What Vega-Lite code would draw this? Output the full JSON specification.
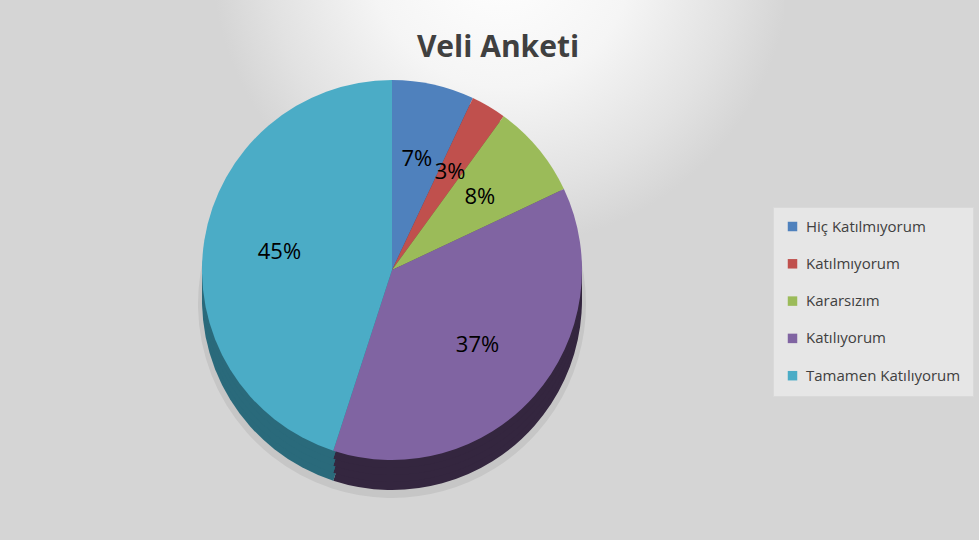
{
  "$schema": "https://vega.github.io/schema/vega-lite/v6.json",
  "width": 784,
  "height": 540,
  "autosize": {"type": "none"},
  "padding": {"left": 0, "top": 0, "right": 195, "bottom": 0},
  "background": "#d5d5d5",
  "title": {
    "text": "Veli Anketi",
    "font": "Open Sans",
    "fontSize": 30,
    "fontWeight": "bold",
    "color": "#404040",
    "anchor": "middle",
    "frame": "group",
    "dx": 106,
    "offset": -63
  },
  "data": {
    "values": [
      {"cevap": "Hiç Katılmıyorum", "oran": 0.07, "sira": 1},
      {"cevap": "Katılmıyorum", "oran": 0.03, "sira": 2},
      {"cevap": "Kararsızım", "oran": 0.08, "sira": 3},
      {"cevap": "Katılıyorum", "oran": 0.37, "sira": 4},
      {"cevap": "Tamamen Katılıyorum", "oran": 0.45, "sira": 5}
    ]
  },
  "layer": [
    {
      "mark": {
        "type": "rect",
        "strokeWidth": 0,
        "fill": {
          "gradient": "radial",
          "x1": 0.64, "y1": 0.1, "r1": 0,
          "x2": 0.64, "y2": 0.1, "r2": 0.37,
          "stops": [
            {"offset": 0, "color": "#ffffff"},
            {"offset": 0.45, "color": "#f5f5f5"},
            {"offset": 0.8, "color": "#e2e2e2"},
            {"offset": 1, "color": "#d5d5d5"}
          ]
        }
      },
      "encoding": {}
    },
    {
      "mark": {"type": "arc", "outerRadius": 194, "yOffset": 34, "strokeWidth": 0, "color": "#000000", "opacity": 0.07},
      "encoding": {
        "theta": {"field": "oran", "type": "quantitative", "stack": true},
        "order": {"field": "sira", "type": "quantitative"}
      }
    },
    {
      "mark": {"type": "arc", "outerRadius": 190, "yOffset": 30, "strokeWidth": 0},
      "encoding": {
        "theta": {"field": "oran", "type": "quantitative", "stack": true},
        "order": {"field": "sira", "type": "quantitative"},
        "color": {"field": "cevap", "type": "nominal", "legend": null,
          "scale": {"domain": ["Hiç Katılmıyorum", "Katılmıyorum", "Kararsızım", "Katılıyorum", "Tamamen Katılıyorum"],
                    "range": ["#2c4d75", "#772c2a", "#5f7530", "#34263f", "#2a6a7b"]}}
      }
    },
    {
      "mark": {"type": "arc", "outerRadius": 190, "yOffset": 22, "strokeWidth": 0},
      "encoding": {
        "theta": {"field": "oran", "type": "quantitative", "stack": true},
        "order": {"field": "sira", "type": "quantitative"},
        "color": {"field": "cevap", "type": "nominal", "legend": null,
          "scale": {"domain": ["Hiç Katılmıyorum", "Katılmıyorum", "Kararsızım", "Katılıyorum", "Tamamen Katılıyorum"],
                    "range": ["#2c4d75", "#772c2a", "#5f7530", "#34263f", "#2a6a7b"]}}
      }
    },
    {
      "mark": {"type": "arc", "outerRadius": 190, "yOffset": 15, "strokeWidth": 0},
      "encoding": {
        "theta": {"field": "oran", "type": "quantitative", "stack": true},
        "order": {"field": "sira", "type": "quantitative"},
        "color": {"field": "cevap", "type": "nominal", "legend": null,
          "scale": {"domain": ["Hiç Katılmıyorum", "Katılmıyorum", "Kararsızım", "Katılıyorum", "Tamamen Katılıyorum"],
                    "range": ["#2c4d75", "#772c2a", "#5f7530", "#34263f", "#2a6a7b"]}}
      }
    },
    {
      "mark": {"type": "arc", "outerRadius": 190, "yOffset": 8, "strokeWidth": 0},
      "encoding": {
        "theta": {"field": "oran", "type": "quantitative", "stack": true},
        "order": {"field": "sira", "type": "quantitative"},
        "color": {"field": "cevap", "type": "nominal", "legend": null,
          "scale": {"domain": ["Hiç Katılmıyorum", "Katılmıyorum", "Kararsızım", "Katılıyorum", "Tamamen Katılıyorum"],
                    "range": ["#2c4d75", "#772c2a", "#5f7530", "#34263f", "#2a6a7b"]}}
      }
    },
    {
      "mark": {"type": "arc", "outerRadius": 190, "strokeWidth": 0},
      "encoding": {
        "theta": {"field": "oran", "type": "quantitative", "stack": true},
        "order": {"field": "sira", "type": "quantitative"},
        "color": {"field": "cevap", "type": "nominal",
          "scale": {"domain": ["Hiç Katılmıyorum", "Katılmıyorum", "Kararsızım", "Katılıyorum", "Tamamen Katılıyorum"],
                    "range": ["#4f81bd", "#c0504d", "#9bbb59", "#8064a2", "#4bacc6"]},
          "legend": {
            "orient": "none",
            "legendX": 773,
            "legendY": 207,
            "title": null,
            "symbolType": "square",
            "symbolSize": 90,
            "symbolStrokeWidth": 0,
            "labelFont": "Open Sans",
            "labelFontSize": 15,
            "labelColor": "#404040",
            "labelOffset": 6,
            "rowPadding": 21.3,
            "padding": 12,
            "fillColor": "#e6e6e6",
            "strokeColor": "#d9d9d9"
          }
        }
      }
    },
    {
      "mark": {"type": "text", "radius": 114, "fontSize": 22, "font": "Open Sans", "color": "#000000"},
      "encoding": {
        "theta": {"field": "oran", "type": "quantitative", "stack": true},
        "order": {"field": "sira", "type": "quantitative"},
        "text": {"field": "oran", "type": "quantitative", "format": ".0%"}
      }
    }
  ],
  "resolve": {"scale": {"color": "independent"}},
  "config": {
    "view": {"stroke": null}
  }
}
